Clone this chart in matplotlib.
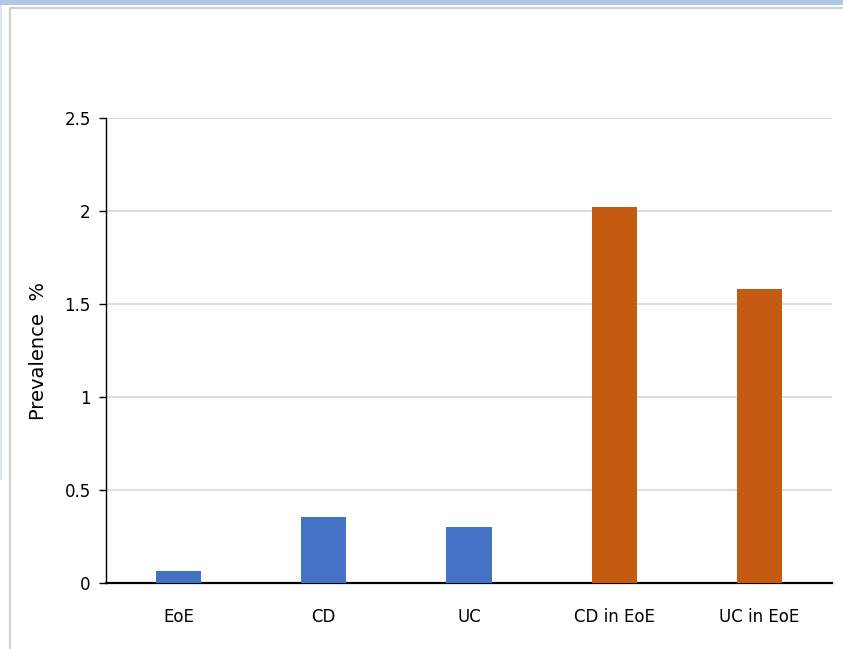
import matplotlib.pyplot as plt
import matplotlib.patches as mpatches
import numpy as np

categories = ["EoE", "CD", "UC", "CD in EoE", "UC in EoE"]
prevalence = [0.065, 0.355, 0.30, 2.02, 1.58]
bar_colors = ["#4472c4", "#4472c4", "#4472c4", "#c55a11", "#c55a11"]
y_ticks = [0, 0.5, 1, 1.5, 2, 2.5]
y_tick_labels = ["0", "0.5", "1", "1.5", "2", "2.5"]

tick_font = ["Liberation Sans Narrow", "DejaVu Sans"]

fig = plt.figure(figsize=(8.43, 6.49), dpi=100)
fig.patch.set_facecolor("white")

# decorative frame around the chart (slide background)
fig.add_artist(mpatches.Rectangle((0, 1 - 5 / 649), 1, 5 / 649, transform=fig.transFigure,
                                  color="#b4c7e7", lw=0, zorder=0))
fig.add_artist(mpatches.Rectangle((0, 1 - 480 / 649), 2 / 843, 475 / 649, transform=fig.transFigure,
                                  color="#dae3f3", lw=0, zorder=0))
fig.add_artist(plt.Line2D([10 / 843, 10 / 843], [0, 1 - 8 / 649], transform=fig.transFigure,
                          color="#d0d0d0", lw=1.5))
fig.add_artist(plt.Line2D([10 / 843, 1], [1 - 8 / 649, 1 - 8 / 649], transform=fig.transFigure,
                          color="#d0d0d0", lw=1.5))

ax = fig.add_axes([106 / 843, 66 / 649, 726 / 843, 465 / 649])
x = np.arange(len(categories))
ax.bar(x, prevalence, width=0.31, color=bar_colors, zorder=3)

ax.set_xlim(-0.5, len(categories) - 0.5)
ax.set_ylim(0, 2.5)
ax.set_yticks(y_ticks)
ax.set_yticklabels(y_tick_labels, family=tick_font, fontsize=12)
ax.set_xticks(x)
ax.set_xticklabels(categories, family=tick_font, fontsize=12)
ax.tick_params(axis="x", length=0, pad=18)
ax.tick_params(axis="y", length=5, width=1, direction="out", pad=6)
ax.yaxis.grid(True, color="#d9d9d9", lw=1.2, zorder=0)
ax.set_axisbelow(True)

for side in ["top", "right"]:
    ax.spines[side].set_visible(False)
ax.spines["left"].set_linewidth(1)
ax.spines["bottom"].set_linewidth(1.6)

ax.set_ylabel("Prevalence  %", fontsize=14, labelpad=12, fontfamily="DejaVu Sans")

plt.savefig("out.png", dpi=100, facecolor="white")
plt.close()
